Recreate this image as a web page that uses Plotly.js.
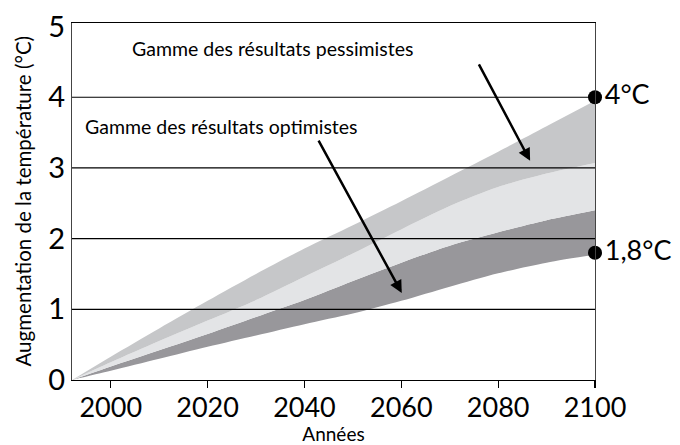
<!DOCTYPE html>
<html>
<head>
<meta charset="utf-8">
<script src="https://cdn.plot.ly/plotly-3.0.1.min.js"></script>
<style>html,body{margin:0;padding:0;background:#fff;}#chart{width:680px;height:445px;}</style>
</head>
<body>
<div id="chart"></div>
<script>
// Years
const years = [1992, 2000, 2010, 2020, 2030, 2040, 2050, 2060, 2070, 2080, 2090, 2100];
// Band boundaries (°C), from top to bottom
const upperPessimist = [0, 0.33, 0.73, 1.12, 1.50, 1.86, 2.19, 2.53, 2.88, 3.23, 3.59, 3.95];
const upperOverlap   = [0, 0.25, 0.55, 0.84, 1.13, 1.46, 1.79, 2.13, 2.46, 2.73, 2.92, 3.07];
const lowerOverlap   = [0, 0.19, 0.42, 0.65, 0.89, 1.13, 1.40, 1.66, 1.90, 2.09, 2.26, 2.40];
const lowerOptimist  = [0, 0.13, 0.30, 0.47, 0.63, 0.79, 0.94, 1.12, 1.32, 1.51, 1.66, 1.77];
// End-point markers
const endYears = [2100, 2100];
const endValues = [4, 1.8];
const endLabels = ['4°C', '1,8°C'];
// Axis ticks
const xTicks = [2000, 2020, 2040, 2060, 2080, 2100];
const yTicks = [0, 1, 2, 3, 4, 5];
const gridValues = [1, 2, 3, 4];
// Texts
const labelPessimist = 'Gamme des résultats pessimistes';
const labelOptimist = 'Gamme des résultats optimistes';
const xTitle = 'Années';
const yTitle = 'Augmentation de la température (°C)';
// Arrow tips (data)
const arrowPess = {x: 2086.6, y: 3.10};
const arrowOpt = {x: 2060.1, y: 1.23};

const FONT = 'Lato, "Open Sans", sans-serif';
const colDark = '#98979b', colLight = '#e3e4e6', colMid = '#c6c7c9';
const bandLine = {width: 0, shape: 'spline', smoothing: 0.8};

const traces = [
  {x: years, y: lowerOptimist, mode: 'lines', line: bandLine, hoverinfo: 'skip', showlegend: false},
  {x: years, y: lowerOverlap, mode: 'lines', line: bandLine, fill: 'tonexty', fillcolor: colDark, hoverinfo: 'skip', showlegend: false},
  {x: years, y: upperOverlap, mode: 'lines', line: bandLine, fill: 'tonexty', fillcolor: colLight, hoverinfo: 'skip', showlegend: false},
  {x: years, y: upperPessimist, mode: 'lines', line: bandLine, fill: 'tonexty', fillcolor: colMid, hoverinfo: 'skip', showlegend: false},
  {x: endYears, y: endValues, mode: 'markers+text', text: endLabels, textposition: 'middle right',
   textfont: {family: FONT, size: 27, color: '#000'}, marker: {size: 14, color: '#000'}, cliponaxis: false, showlegend: false, hoverinfo: 'skip'}
];

const shapes = gridValues.map(v => ({type: 'line', xref: 'paper', x0: 0, x1: 1, yref: 'y', y0: v, y1: v, layer: 'above', line: {color: '#000', width: 1.2}}));

const annotations = [
  {xref: 'paper', yref: 'paper', x: 0.383, y: 0.928, xanchor: 'center', yanchor: 'middle', text: labelPessimist, showarrow: false, font: {family: FONT, size: 19.5, color: '#000'}},
  {xref: 'paper', yref: 'paper', x: 0.285, y: 0.71, xanchor: 'center', yanchor: 'middle', text: labelOptimist, showarrow: false, font: {family: FONT, size: 19.5, color: '#000'}},
  {xref: 'paper', yref: 'paper', x: -0.0956, y: 0.50, xanchor: 'center', yanchor: 'middle', textangle: -90, text: yTitle, showarrow: false, font: {family: FONT, size: 20.5, color: '#000'}},
  {x: arrowPess.x, y: arrowPess.y, xref: 'x', yref: 'y', ax: -52, ay: -98, text: '', showarrow: true, arrowhead: 2, arrowsize: 1, arrowwidth: 2.5, arrowcolor: '#000', standoff: 0},
  {x: arrowOpt.x, y: arrowOpt.y, xref: 'x', yref: 'y', ax: -84, ay: -154, text: '', showarrow: true, arrowhead: 2, arrowsize: 1, arrowwidth: 2.5, arrowcolor: '#000', standoff: 0}
];

const layout = {
  width: 680, height: 445,
  margin: {l: 72, r: 85, t: 23, b: 65},
  paper_bgcolor: '#fff', plot_bgcolor: '#fff',
  font: {family: FONT, color: '#000'},
  showlegend: false,
  xaxis: {
    range: [1992, 2100], tickvals: xTicks, ticks: 'outside', ticklen: 7, tickwidth: 1.2, tickcolor: '#000',
    ticklabelstandoff: -4,
    showgrid: false, zeroline: false, showline: true, linecolor: '#000', linewidth: 1.2, mirror: true,
    tickfont: {family: FONT, size: 27, color: '#000'},
    title: {text: xTitle, font: {family: FONT, size: 19, color: '#000'}, standoff: 6}
  },
  yaxis: {
    range: [0, 5.05], tickvals: yTicks, ticks: '', showgrid: false, zeroline: false,
    showline: true, linecolor: '#444', linewidth: 1.2, mirror: true,
    tickfont: {family: FONT, size: 29, color: '#000'}
  },
  shapes: shapes,
  annotations: annotations
};

Plotly.newPlot('chart', traces, layout, {displayModeBar: false, staticPlot: true});
</script>
</body>
</html>
